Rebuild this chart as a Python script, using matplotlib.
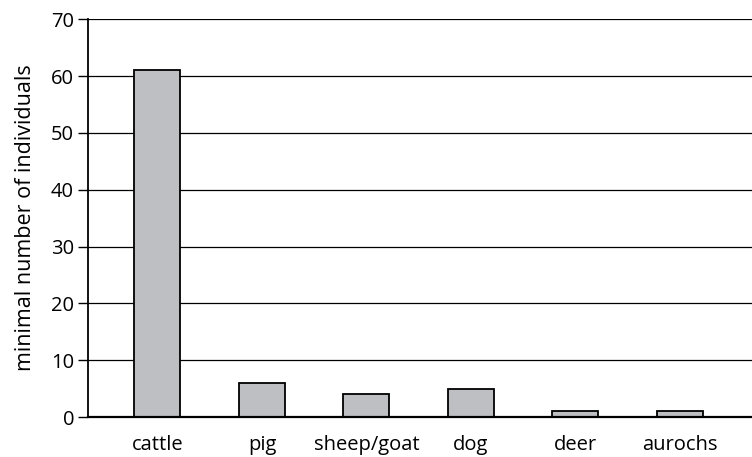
import matplotlib
matplotlib.use("Agg")
import matplotlib.pyplot as plt

# Tiere und Mindestindividuenzahl
categories = ["cattle", "pig", "sheep/goat", "dog", "deer", "aurochs"]
values = [61, 6, 4, 5, 1, 1]
yticks = [0, 10, 20, 30, 40, 50, 60, 70]

plt.rcParams['font.family'] = ['Open Sans', 'DejaVu Sans']

fig = plt.figure(figsize=(7.52, 4.57), dpi=100)
ax = fig.add_axes([0.117, 0.0875, 0.883, 0.8705])

for y in yticks[1:]:
    ax.axhline(y, color="black", linewidth=1.6 if y == 70 else 0.9, zorder=1)

x = list(range(len(categories)))
ax.bar(x, values, width=0.44, color="#bebfc3", edgecolor="black", linewidth=1.3, zorder=2)

ax.set_xlim(-0.665, 5.69)
ax.set_ylim(0, 70)
ax.set_yticks(yticks)
ax.set_xticks(x)
ax.set_xticklabels(categories)

for s in ["top", "right"]:
    ax.spines[s].set_visible(False)
ax.spines["left"].set_linewidth(1.3)
ax.spines["bottom"].set_linewidth(1.6)

ax.tick_params(axis="y", length=7, width=1, labelsize=14.5, pad=3)
ax.tick_params(axis="x", length=0, labelsize=14.5, pad=13)
ax.set_ylabel("minimal number of individuals", fontsize=15.5, labelpad=11)

fig.savefig("out.png", dpi=100)
